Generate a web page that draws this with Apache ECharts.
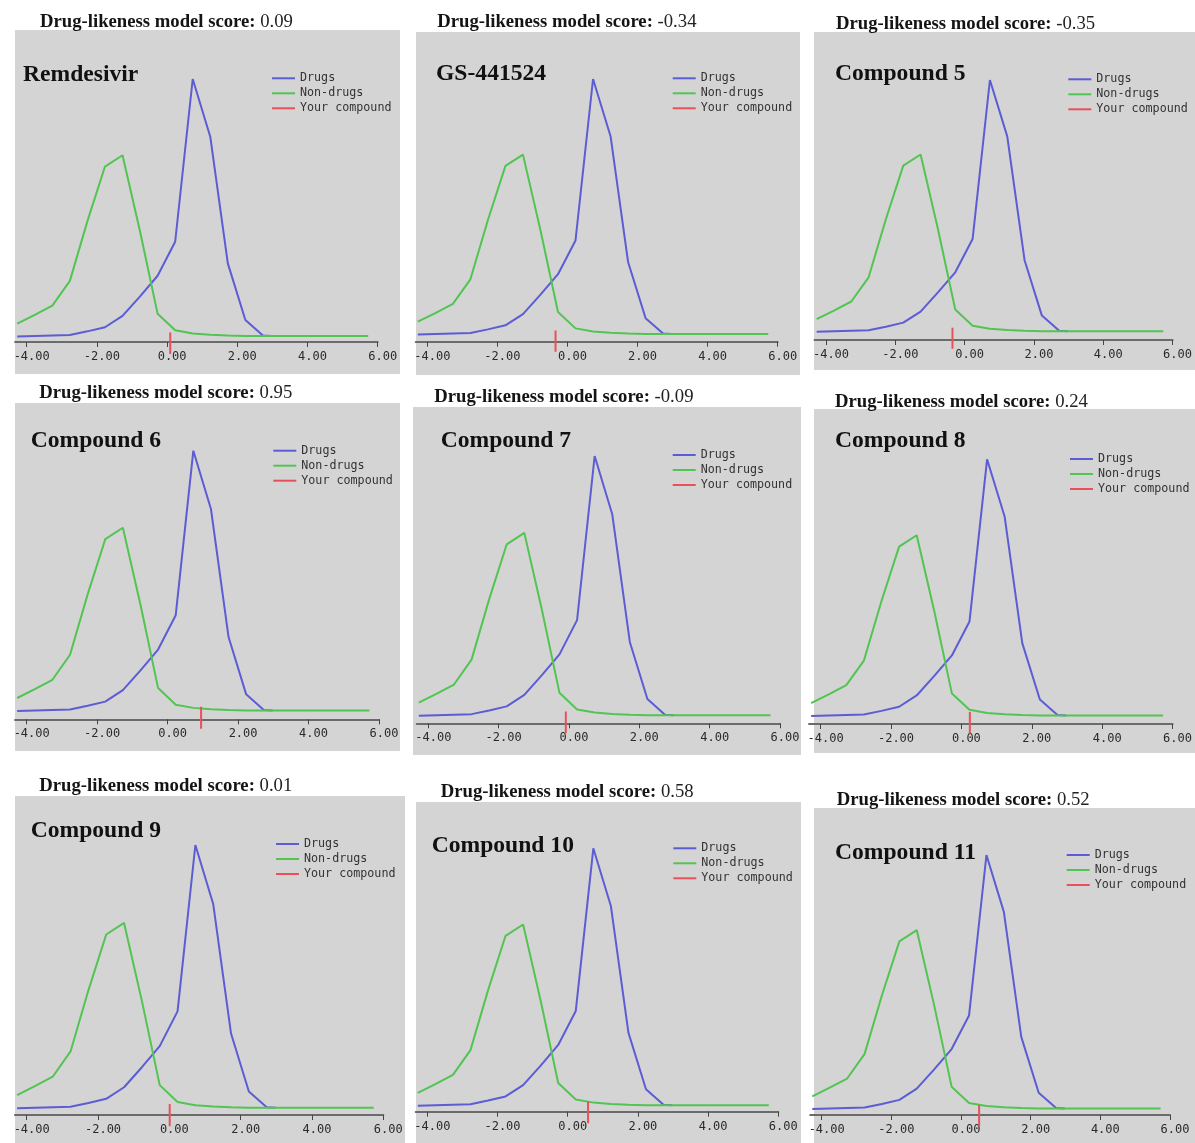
<!DOCTYPE html>
<html><head><meta charset="utf-8">
<script src="https://cdn.jsdelivr.net/npm/echarts@6/dist/echarts.min.js"></script>
<style>html,body{margin:0;padding:0;background:#fff}#c{width:1195px;height:1143px}</style>
</head><body><div id="c"></div>
<script>
// ---------- data ----------
const compoundNames = ["Remdesivir","GS-441524","Compound 5","Compound 6","Compound 7","Compound 8","Compound 9","Compound 10","Compound 11"];
const scores = [0.09, -0.34, -0.35, 0.95, -0.09, 0.24, 0.01, 0.58, 0.52];
const drugX    = [-4.27,-3.77,-3.27,-2.77,-2.27,-1.77,-1.27,-0.77,-0.27,0.23,0.73,1.23,1.73,2.23,2.73,2.98];
const drugY    = [0.0, 0.05, 0.1, 0.15, 0.5, 0.9, 2.0, 3.9, 5.9, 9.2, 25.0, 19.4, 7.1, 1.6, 0.1, 0.05];
const nonDrugX = [-4.27,-3.77,-3.27,-2.77,-2.27,-1.77,-1.27,-0.77,-0.27,0.23,0.73,1.23,1.73,2.23,2.73,3.23,3.73,4.23,4.73,5.23,5.73];
const nonDrugY = [1.25, 2.1, 3.0, 5.4, 11.2, 16.5, 17.6, 10.2, 2.2, 0.6, 0.3, 0.17, 0.1, 0.05, 0.05, 0.05, 0.05, 0.05, 0.05, 0.05, 0.05];
const tickValues = [-4, -2, 0, 2, 4, 6];
const tickLabels = ["-4.00","-2.00","0.00","2.00","4.00","6.00"];
const seriesNames = ["Drugs","Non-drugs","Your compound"];
const markerSpan = [0.4, -1.7];
const xRange = [-4.33, 6];

// ---------- layout (pixels) ----------
const panels = [
  {grey:[15,30,400,374],   t4:26.7,  t6:377.7,  axisY:342,    baseY:336.5,  peakY:79,    titleX:40,    titleY:22.2,  nameX:23,    nameY:75,    legX:272,    legY:78.3},
  {grey:[416,32,800,375],  t4:427.3, t6:777.7,  axisY:341.7,  baseY:334.5,  peakY:79,    titleX:437.3, titleY:21.7,  nameX:436,   nameY:74.2,  legX:672.7,  legY:78.3},
  {grey:[814,32,1195,370], t4:826,   t6:1172.7, axisY:340,    baseY:331.7,  peakY:80,    titleX:836,   titleY:24.2,  nameX:835,   nameY:74.2,  legX:1068.3, legY:79.3},
  {grey:[15,403,400,751],  t4:26.7,  t6:379,    axisY:719.3,  baseY:711,    peakY:450.7, titleX:39.3,  titleY:393.2, nameX:30.7,  nameY:440.8, legX:273.3,  legY:450.7},
  {grey:[413,407,801,755], t4:428.3, t6:780,    axisY:723.3,  baseY:715.7,  peakY:456,   titleX:434.3, titleY:397.5, nameX:440.7, nameY:440.8, legX:672.7,  legY:455},
  {grey:[814,409,1195,753],t4:820.7, t6:1175,   axisY:724,    baseY:716,    peakY:459.3, titleX:835,   titleY:402.5, nameX:835,   nameY:440.8, legX:1070,   legY:459},
  {grey:[15,796,405,1143], t4:26.7,  t6:383.3,  axisY:1115,   baseY:1108.3, peakY:845,   titleX:39.3,  titleY:786.3, nameX:30.7,  nameY:830.8, legX:276,    legY:844},
  {grey:[416,802,801,1143],t4:427.3, t6:778.3,  axisY:1111.7, baseY:1105.7, peakY:848.3, titleX:440.7, titleY:792.5, nameX:431.7, nameY:845.8, legX:673.3,  legY:848.3},
  {grey:[814,808,1195,1143],t4:821.7,t6:1170,   axisY:1115,   baseY:1109,   peakY:855,   titleX:836.7, titleY:800,   nameX:835,   nameY:852.5, legX:1066.7, legY:855}
];

const COLORS = {drug:'#5c5cd4', non:'#52c452', red:'#e8505a', grey:'#d4d4d4'};
const drugPeak = Math.max(...drugY);
const zip = (xs, ys) => xs.map((x, i) => [x, ys[i]]);

const grid = [], xAxis = [], yAxis = [], series = [], title = [], legend = [], graphic = [];
panels.forEach((p, i) => {
  const ppx = (p.t6 - p.t4) / (tickValues[tickValues.length-1] - tickValues[0]);
  const left = p.t4 - (tickValues[0] - xRange[0]) * ppx;
  const right = p.t4 + (xRange[1] - tickValues[0]) * ppx;
  const ppy = (p.baseY - p.peakY) / drugPeak;
  const top = p.grey[1];
  grid.push({left: left, top: top, width: right - left, height: p.axisY - top, containLabel: false});
  xAxis.push({
    type: 'value', gridIndex: i, min: xRange[0], max: xRange[1],
    axisLine: {onZero: false, lineStyle: {color: '#6b6b6b', width: 2}},
    axisTick: {customValues: tickValues, length: 5, lineStyle: {color: '#444', width: 1}},
    axisLabel: {customValues: tickValues, formatter: v => tickLabels[tickValues.indexOf(v)],
      fontFamily: 'DejaVu Sans Mono', fontSize: 12, color: '#2a2a2a', margin: 9, padding: [0,0,0,10]},
    splitLine: {show: false}
  });
  yAxis.push({type: 'value', gridIndex: i, show: false,
    min: -(p.axisY - p.baseY) / ppy, max: (p.baseY - top) / ppy});
  series.push({name: seriesNames[0], type: 'line', xAxisIndex: i, yAxisIndex: i, data: zip(drugX, drugY),
    symbol: 'none', lineStyle: {color: COLORS.drug, width: 2}, itemStyle: {color: COLORS.drug}, silent: true, animation: false});
  series.push({name: seriesNames[1], type: 'line', xAxisIndex: i, yAxisIndex: i, data: zip(nonDrugX, nonDrugY),
    symbol: 'none', lineStyle: {color: COLORS.non, width: 2}, itemStyle: {color: COLORS.non}, silent: true, animation: false});
  series.push({name: seriesNames[2], type: 'line', xAxisIndex: i, yAxisIndex: i, clip: false,
    data: [[scores[i], markerSpan[0]], [scores[i], markerSpan[1]]],
    symbol: 'none', lineStyle: {color: COLORS.red, width: 2}, itemStyle: {color: COLORS.red}, silent: true, animation: false});
  title.push({
    left: p.titleX, top: p.titleY - 10, padding: 0,
    text: '{b|Drug-likeness model score:} {n|' + scores[i].toFixed(2) + '}',
    textStyle: {fontFamily: 'Liberation Serif', fontSize: 18.7, lineHeight: 20, color: '#1a1a1a',
      rich: {
        b: {fontFamily: 'Liberation Serif', fontWeight: 'bold', fontSize: 18.7, lineHeight: 20, color: '#141414'},
        n: {fontFamily: 'Liberation Serif', fontWeight: 'normal', fontSize: 18.7, lineHeight: 20, color: '#222'}
      }}
  });
  title.push({
    left: p.nameX, top: p.nameY - 13, padding: 0, text: compoundNames[i],
    textStyle: {fontFamily: 'Liberation Serif', fontWeight: 'bold', fontSize: 23.6, lineHeight: 26, color: '#111'}
  });
  legend.push({
    left: p.legX, top: p.legY - 6, orient: 'vertical', padding: 0, itemGap: 3,
    itemWidth: 23, itemHeight: 2, icon: 'rect', selectedMode: false, data: seriesNames,
    textStyle: {fontFamily: 'DejaVu Sans Mono', fontSize: 11.7, lineHeight: 12, color: '#333'}
  });
  graphic.push({type: 'rect', z: -10, silent: true,
    shape: {x: p.grey[0], y: p.grey[1], width: p.grey[2] - p.grey[0], height: p.grey[3] - p.grey[1]},
    style: {fill: COLORS.grey}});
});

const chart = echarts.init(document.getElementById('c'), null, {renderer: 'canvas'});
chart.setOption({
  backgroundColor: '#ffffff', animation: false,
  grid, xAxis, yAxis, series, title, legend, graphic
});
</script></body></html>
